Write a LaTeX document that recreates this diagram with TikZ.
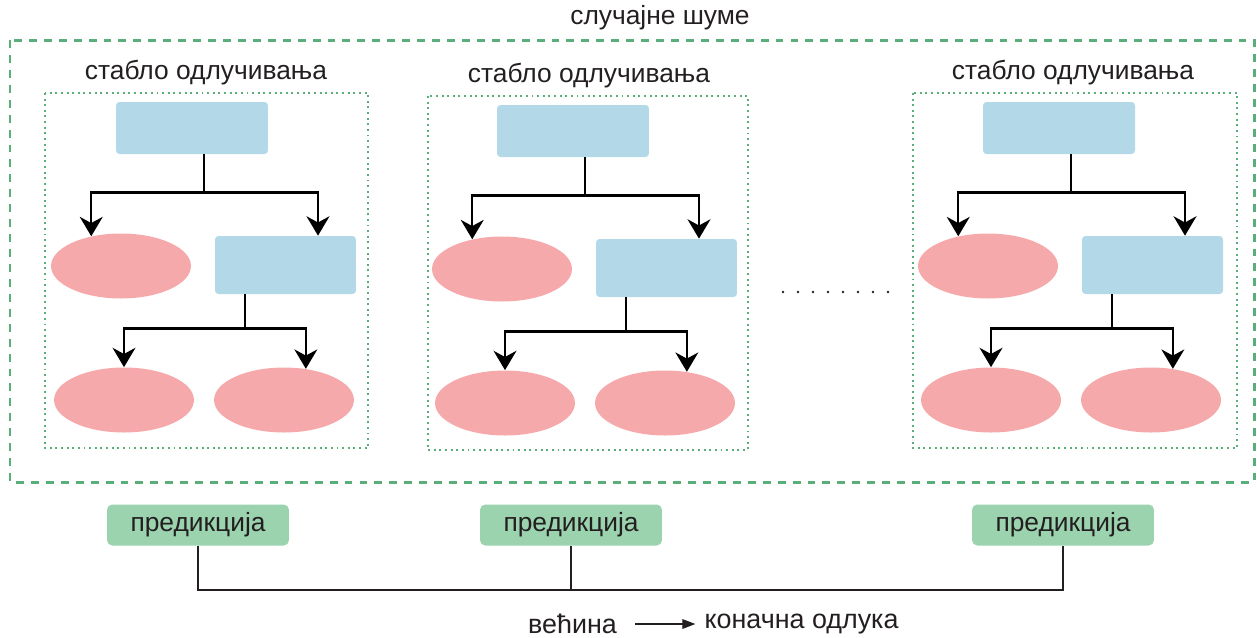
\documentclass[tikz,border=0pt]{standalone}
\usepackage{fontspec}
\setmainfont{Liberation Sans}
\usetikzlibrary{arrows.meta, positioning, shapes.geometric}
\definecolor{splitblue}{HTML}{B3D9E8}
\definecolor{leafred}{HTML}{F6A9AB}
\definecolor{predgreen}{HTML}{9BD3AF}
\definecolor{framegreen}{HTML}{5AAE7A}
\definecolor{inkgray}{HTML}{231F20}
\tikzset{
  split/.style={ fill=splitblue, rounded corners=2pt, minimum width=3.04cm, minimum height=1.04cm }
}
\tikzset{
  splitmid/.style={ split, minimum width=2.82cm, minimum height=1.16cm }
}
\tikzset{
  leaf/.style={ ellipse, fill=leafred, inner sep=0pt, minimum width=2.8cm, minimum height=1.3cm }
}
\tikzset{
  lbl/.style={ font=\fontsize{15}{18}\selectfont, text=inkgray, inner sep=2pt }
}
\tikzset{
  pred/.style={ lbl, fill=predgreen, rounded corners=3pt, minimum width=3.64cm, minimum height=0.82cm }
}
\tikzset{
  stem/.style={ draw=black, line width=1.4pt }
}
\tikzset{
  branch/.style={ stem, -{Stealth[length=11pt, width=13pt, inset=3.5pt]} }
}
\tikzset{
  treebox/.style={ draw=framegreen, line width=0.85pt, dash pattern=on 1.1pt off 2.1pt }
}
\tikzset{
  forestbox/.style={ draw=framegreen, line width=1.7pt, dash pattern=on 4.5pt off 4pt }
}

\begin{document}
\begin{tikzpicture}[x=0.02cm, y=-0.02cm]
  \useasboundingbox (0,0) rectangle (1257,637);

  % the forest
  \node[lbl] (forest) at (660, 18) {случајне шуме};
  \draw[forestbox] (10,40) rectangle (1254,482);

  % first tree
  \node[lbl] (title1) at (206, 73) {стабло одлучивања};
  \draw[treebox] (45,93) rectangle (368,448);
  \node[split] (top1) at (192, 128) {};
  \node[leaf] (leaf1a) at (121, 266) {};
  \node[splitmid] (mid1) at (285.5, 265) {};
  \node[leaf] (leaf1b) at (124, 400) {};
  \node[leaf] (leaf1c) at (284, 400) {};
  \draw[stem] ([xshift=0.24cm]top1.south) -- ++(0,38) coordinate (j1);
  \draw[branch] (j1) -| (leaf1a.135);
  \draw[branch] (j1) -| ([xshift=0.65cm]mid1.north);
  \draw[stem] ([xshift=-0.81cm]mid1.south) -- ++(0,34) coordinate (k1);
  \draw[branch] (k1) -| (leaf1b.north);
  \draw[branch] (k1) -| (leaf1c.55);

  % second tree
  \node[lbl] (title2) at (589, 76) {стабло одлучивања};
  \draw[treebox] (428,96) rectangle (748,450);
  \node[split] (top2) at (573, 131) {};
  \node[leaf] (leaf2a) at (502, 269) {};
  \node[splitmid] (mid2) at (666.5, 268) {};
  \node[leaf] (leaf2b) at (505, 403) {};
  \node[leaf] (leaf2c) at (665, 403) {};
  \draw[stem] ([xshift=0.24cm]top2.south) -- ++(0,38) coordinate (j2);
  \draw[branch] (j2) -| (leaf2a.135);
  \draw[branch] (j2) -| ([xshift=0.65cm]mid2.north);
  \draw[stem] ([xshift=-0.81cm]mid2.south) -- ++(0,34) coordinate (k2);
  \draw[branch] (k2) -| (leaf2b.north);
  \draw[branch] (k2) -| (leaf2c.55);

  % more trees
  \fill[inkgray] (783,292) circle (1.4) (798,292) circle (1.4) (813,292) circle (1.4)
    (828,292) circle (1.4) (843,292) circle (1.4) (858,292) circle (1.4)
    (873,292) circle (1.4) (888,292) circle (1.4);

  % last tree
  \node[lbl] (title3) at (1073, 73) {стабло одлучивања};
  \draw[treebox] (913,93) rectangle (1237,448);
  \node[split] (top3) at (1059, 128) {};
  \node[leaf] (leaf3a) at (988, 266) {};
  \node[splitmid] (mid3) at (1152.5, 265) {};
  \node[leaf] (leaf3b) at (991, 400) {};
  \node[leaf] (leaf3c) at (1151, 400) {};
  \draw[stem] ([xshift=0.24cm]top3.south) -- ++(0,38) coordinate (j3);
  \draw[branch] (j3) -| (leaf3a.135);
  \draw[branch] (j3) -| ([xshift=0.65cm]mid3.north);
  \draw[stem] ([xshift=-0.81cm]mid3.south) -- ++(0,34) coordinate (k3);
  \draw[branch] (k3) -| (leaf3b.north);
  \draw[branch] (k3) -| (leaf3c.55);

  % voting
  \node[pred] (pred1) at (198, 525) {предикција};
  \node[pred] (pred2) at (571, 525) {предикција};
  \node[pred] (pred3) at (1063, 525) {предикција};
  \draw[inkgray, line width=0.8pt] (pred1.south) -- ++(0,44) coordinate (vote) -| (pred3.south);
  \draw[inkgray, line width=0.8pt] (pred2.south) -- (pred2.south |- vote);

  \node[lbl, font=\fontsize{15.3}{18}\selectfont] (major) at (572.5, 624) {већина};
  \node[lbl, font=\fontsize{15.3}{18}\selectfont, right=1.6cm of major] (final) {коначна одлука};
  \draw[inkgray, line width=0.8pt, -{Triangle[length=7.5pt, width=5.5pt]}, shorten <=8pt, shorten >=3pt] (major) -- (final);
\end{tikzpicture}
\end{document}
